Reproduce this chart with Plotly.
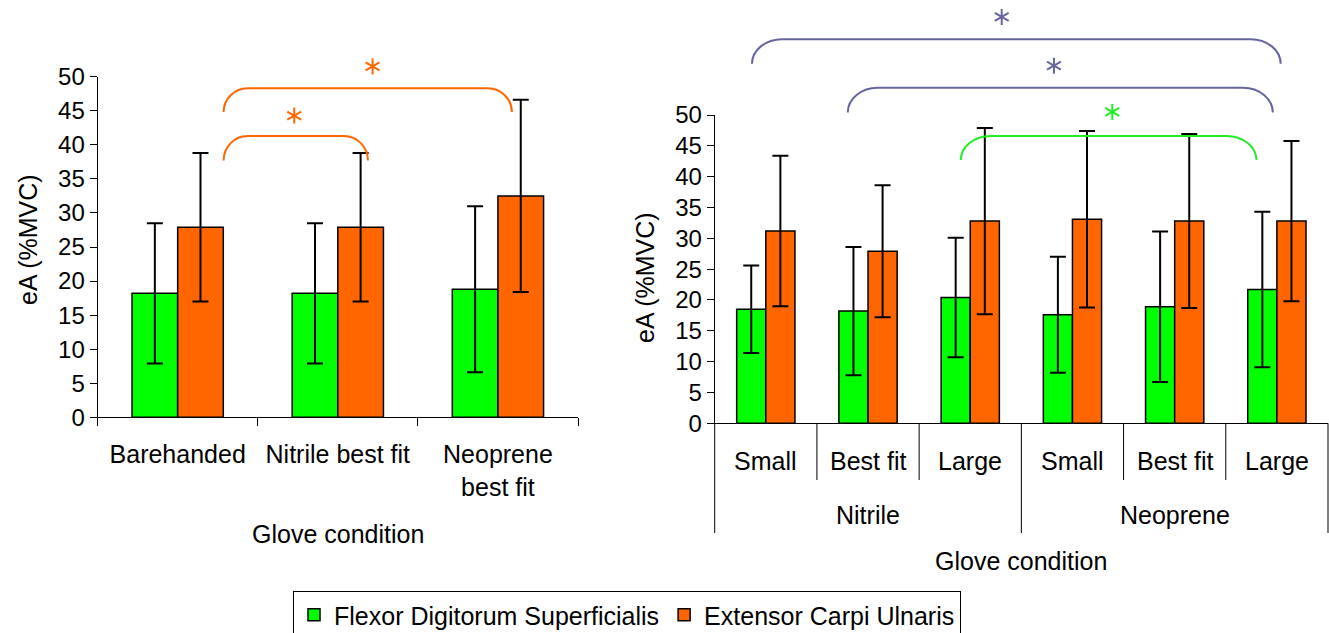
import math
import plotly.graph_objects as go

W, H = 1329, 633

# ---- Left panel: best-fit gloves vs. barehanded ----
left_categories = ["Barehanded", "Nitrile best fit", "Neoprene<br>best fit"]
left_fds_mean = [18.2, 18.2, 18.8]
left_fds_sd = [10.3, 10.3, 12.2]
left_ecu_mean = [27.9, 27.9, 32.5]
left_ecu_sd = [10.9, 10.9, 14.1]

# ---- Right panel: glove size within material ----
right_materials = ["Nitrile", "Neoprene"]
right_sizes = ["Small", "Best fit", "Large", "Small", "Best fit", "Large"]
right_fds_mean = [18.5, 18.2, 20.4, 17.6, 18.9, 21.7]
right_fds_sd = [7.1, 10.4, 9.7, 9.4, 12.2, 12.6]
right_ecu_mean = [31.2, 27.9, 32.8, 33.1, 32.8, 32.8]
right_ecu_sd = [12.2, 10.7, 15.1, 14.3, 14.1, 13.0]

series_names = ["Flexor Digitorum Superficialis", "Extensor Carpi Ulnaris"]
y_ticks = [0, 5, 10, 15, 20, 25, 30, 35, 40, 45, 50]

# Significance brackets: (x start, x end, top value, end value, star x, star y)
left_brackets = [
    (0.287, 1.188, 41.3, 37.7, 0.728, 44.3),
    (0.287, 2.087, 48.3, 44.8, 1.217, 51.5),
]
right_brackets = [
    (-0.135, 5.037, 62.3, 58.3, 2.308, 65.9),
    (0.802, 4.960, 54.4, 50.4, 2.819, 58.0),
    (1.907, 4.800, 46.6, 42.7, 3.390, 50.5),
]
right_bracket_colors = ["#66669E", "#66669E", "#22EE22"]

GREEN = "#00FF00"
ORANGE = "#FF6600"
FONT = "Liberation Sans, Arial, sans-serif"

LEFT_DX = (97.6 / W, 578.0 / W)
LEFT_DY = (1 - 417.3 / H, 1 - 76.7 / H)
RIGHT_DX = (714.7 / W, 1328.0 / W)
RIGHT_DY = (1 - 423.3 / H, 1 - 115.0 / H)
LEFT_XR = (-0.5, 2.5)
RIGHT_XR = (-0.5, 5.5)
YR = (0, 50)


def to_paper(v, rng, dom):
    return dom[0] + (v - rng[0]) / (rng[1] - rng[0]) * (dom[1] - dom[0])


def bracket_path(x0, x1, yt, ye, rx):
    k = 0.552
    return (
        f"M{x0},{ye} C{x0},{ye + k * (yt - ye)} {x0 + rx - k * rx},{yt} {x0 + rx},{yt} "
        f"L{x1 - rx},{yt} C{x1 - rx + k * rx},{yt} {x1},{ye + k * (yt - ye)} {x1},{ye}"
    )


def asterisk_path(cx, cy, arm_px=8.0):
    """Six-armed asterisk centred at (cx, cy) in paper units."""
    parts = []
    for ang in (90, 30, 150):
        dx = arm_px * math.cos(math.radians(ang)) / W
        dy = arm_px * math.sin(math.radians(ang)) / H
        parts.append(f"M{cx - dx},{cy - dy} L{cx + dx},{cy + dy}")
    return " ".join(parts)


fig = go.Figure()

err = dict(type="data", color="black", thickness=2, width=8, visible=True)
bar_line = dict(color="black", width=1.5)

fig.add_trace(go.Bar(x=left_categories, y=left_fds_mean, name=series_names[0],
                     marker=dict(color=GREEN, line=bar_line),
                     error_y=dict(array=left_fds_sd, **err),
                     xaxis="x", yaxis="y", offsetgroup="a", legendgroup="a"))
fig.add_trace(go.Bar(x=left_categories, y=left_ecu_mean, name=series_names[1],
                     marker=dict(color=ORANGE, line=bar_line),
                     error_y=dict(array=left_ecu_sd, **err),
                     xaxis="x", yaxis="y", offsetgroup="b", legendgroup="b"))

right_x = list(range(len(right_sizes)))
fig.add_trace(go.Bar(x=right_x, y=right_fds_mean, name=series_names[0],
                     marker=dict(color=GREEN, line=bar_line),
                     error_y=dict(array=right_fds_sd, **err),
                     xaxis="x2", yaxis="y2", offsetgroup="a", legendgroup="a",
                     showlegend=False))
fig.add_trace(go.Bar(x=right_x, y=right_ecu_mean, name=series_names[1],
                     marker=dict(color=ORANGE, line=bar_line),
                     error_y=dict(array=right_ecu_sd, **err),
                     xaxis="x2", yaxis="y2", offsetgroup="b", legendgroup="b",
                     showlegend=False))

shapes = []
rx = 24 / W

# Brackets and asterisks on the left panel
for (x0, x1, yt, ye, sx, sy) in left_brackets:
    px0, px1 = to_paper(x0, LEFT_XR, LEFT_DX), to_paper(x1, LEFT_XR, LEFT_DX)
    pyt, pye = to_paper(yt, YR, LEFT_DY), to_paper(ye, YR, LEFT_DY)
    shapes.append(dict(type="path", xref="paper", yref="paper",
                       path=bracket_path(px0, px1, pyt, pye, rx),
                       line=dict(color=ORANGE, width=2)))
    shapes.append(dict(type="path", xref="paper", yref="paper",
                       path=asterisk_path(to_paper(sx, LEFT_XR, LEFT_DX),
                                          to_paper(sy, YR, LEFT_DY)),
                       line=dict(color=ORANGE, width=2)))

# Brackets and asterisks on the right panel
for (x0, x1, yt, ye, sx, sy), col in zip(right_brackets, right_bracket_colors):
    px0, px1 = to_paper(x0, RIGHT_XR, RIGHT_DX), to_paper(x1, RIGHT_XR, RIGHT_DX)
    pyt, pye = to_paper(yt, YR, RIGHT_DY), to_paper(ye, YR, RIGHT_DY)
    shapes.append(dict(type="path", xref="paper", yref="paper",
                       path=bracket_path(px0, px1, pyt, pye, rx * 1.25),
                       line=dict(color=col, width=2)))
    shapes.append(dict(type="path", xref="paper", yref="paper",
                       path=asterisk_path(to_paper(sx, RIGHT_XR, RIGHT_DX),
                                          to_paper(sy, YR, RIGHT_DY)),
                       line=dict(color=col, width=2)))

# Right panel category separators (inner: sizes, outer: materials)
axis_py = to_paper(0, YR, RIGHT_DY)
inner_bottom = 1 - 480 / H
outer_bottom = 1 - 533 / H
n_per = len(right_sizes) // len(right_materials)
for i in range(len(right_sizes) + 1):
    xb = to_paper(i - 0.5, RIGHT_XR, RIGHT_DX)
    yb = outer_bottom if i % n_per == 0 else inner_bottom
    shapes.append(dict(type="line", xref="paper", yref="paper",
                       x0=xb, x1=xb, y0=axis_py, y1=yb,
                       line=dict(color="black", width=1)))

annotations = []
for i, lab in enumerate(right_sizes):
    annotations.append(dict(x=i, y=1 - 460.5 / H, xref="x2", yref="paper",
                            text=lab, showarrow=False, font=dict(size=25),
                            xanchor="center", yanchor="middle"))
for j, mat in enumerate(right_materials):
    annotations.append(dict(x=j * n_per + (n_per - 1) / 2, y=1 - 515 / H,
                            xref="x2", yref="paper", text=mat, showarrow=False,
                            font=dict(size=25), xanchor="center", yanchor="middle"))

# Axis titles
annotations += [
    dict(x=(LEFT_DX[0] + LEFT_DX[1]) / 2, y=1 - 534 / H, xref="paper", yref="paper",
         text="Glove condition", showarrow=False, font=dict(size=25),
         xanchor="center", yanchor="middle"),
    dict(x=(RIGHT_DX[0] + RIGHT_DX[1]) / 2, y=1 - 561 / H, xref="paper", yref="paper",
         text="Glove condition", showarrow=False, font=dict(size=25),
         xanchor="center", yanchor="middle"),
    dict(x=28 / W, y=1 - 240 / H, xref="paper", yref="paper", text="eA (%MVC)",
         textangle=-90, showarrow=False, font=dict(size=25),
         xanchor="center", yanchor="middle"),
    dict(x=645 / W, y=1 - 278 / H, xref="paper", yref="paper", text="eA (%MVC)",
         textangle=-90, showarrow=False, font=dict(size=25),
         xanchor="center", yanchor="middle"),
]

yaxis_common = dict(range=list(YR), tickvals=y_ticks, showgrid=False, zeroline=False,
                    showline=True, linecolor="black", linewidth=1,
                    ticks="outside", ticklen=7, tickcolor="black",
                    tickfont=dict(size=24), fixedrange=True)

fig.update_layout(
    width=W, height=H,
    margin=dict(l=0, r=0, t=0, b=0, autoexpand=False),
    paper_bgcolor="white", plot_bgcolor="white",
    font=dict(family=FONT, color="black", size=25),
    barmode="group", bargap=0.43, bargroupgap=0,
    xaxis=dict(domain=list(LEFT_DX), anchor="y", type="category", range=list(LEFT_XR),
               showline=True, linecolor="black", linewidth=1, showgrid=False,
               ticks="outside", tickson="boundaries", ticklen=8, tickcolor="black",
               tickfont=dict(size=25), ticklabelstandoff=15),
    yaxis=dict(domain=list(LEFT_DY), anchor="x", **yaxis_common),
    xaxis2=dict(domain=list(RIGHT_DX), anchor="y2", range=list(RIGHT_XR),
                showline=True, linecolor="black", linewidth=1, showgrid=False,
                zeroline=False, showticklabels=False, ticks=""),
    yaxis2=dict(domain=list(RIGHT_DY), anchor="x2", **yaxis_common),
    shapes=shapes,
    annotations=annotations,
    legend=dict(orientation="h", x=293 / W, y=1 - 591 / H, xanchor="left", yanchor="top",
                bordercolor="black", borderwidth=1, bgcolor="white",
                font=dict(size=25), traceorder="normal", itemwidth=30),
    showlegend=True,
)

fig.write_html("out.html")
